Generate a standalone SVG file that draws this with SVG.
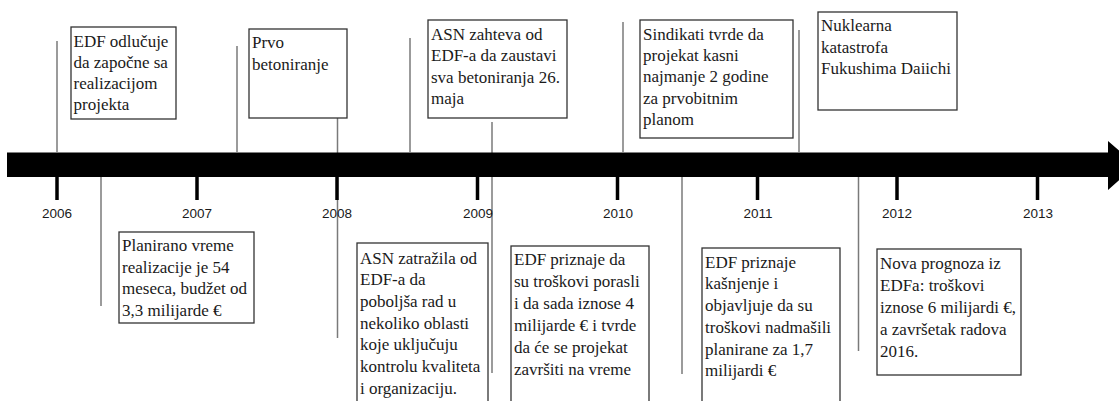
<svg xmlns="http://www.w3.org/2000/svg" width="1119" height="401" viewBox="0 0 1119 401">
<style>
.box{fill:#fff;stroke:#333;stroke-width:1.3}
.t{font-family:"Liberation Serif","Times New Roman",serif;font-size:17px;fill:#1a1a1a}
.yr{font-family:"Liberation Sans",Arial,sans-serif;font-size:13.5px;fill:#1a1a1a;text-anchor:middle}
.ln{stroke:#7a7a7a;stroke-width:1.5;fill:none}
.tick{stroke:#000;stroke-width:3.5}
</style>
<g id="connectors">
<line class="ln" x1="57" y1="41" x2="57" y2="152"/>
<line class="ln" x1="101" y1="177" x2="101" y2="306"/>
<line class="ln" x1="237" y1="46" x2="237" y2="152"/>
<line class="ln" x1="337.5" y1="117" x2="337.5" y2="338"/>
<line class="ln" x1="410" y1="38" x2="410" y2="152"/>
<line class="ln" x1="492" y1="122" x2="492" y2="373"/>
<line class="ln" x1="623" y1="22" x2="623" y2="152"/>
<line class="ln" x1="682" y1="177" x2="682" y2="374"/>
<line class="ln" x1="799" y1="30" x2="799" y2="152"/>
<line class="ln" x1="858.5" y1="177" x2="858.5" y2="351"/>
</g>
<g id="axis">
<path d="M7 152.5 H1108 V141 L1136 165 L1108 190 V177 H7 Z" fill="#000"/>
<line class="tick" x1="57" y1="176" x2="57" y2="200"/>
<line class="tick" x1="197" y1="176" x2="197" y2="200"/>
<line class="tick" x1="337" y1="176" x2="337" y2="200"/>
<line class="tick" x1="477.5" y1="176" x2="477.5" y2="200"/>
<line class="tick" x1="617.5" y1="176" x2="617.5" y2="200"/>
<line class="tick" x1="757.5" y1="176" x2="757.5" y2="200"/>
<line class="tick" x1="897" y1="176" x2="897" y2="200"/>
<line class="tick" x1="1037.5" y1="176" x2="1037.5" y2="200"/>
<text class="yr" x="57" y="218">2006</text>
<text class="yr" x="197" y="218">2007</text>
<text class="yr" x="337" y="218">2008</text>
<text class="yr" x="478" y="218">2009</text>
<text class="yr" x="618" y="218">2010</text>
<text class="yr" x="758" y="218">2011</text>
<text class="yr" x="897" y="218">2012</text>
<text class="yr" x="1038" y="218">2013</text>
</g>
<g id="n-2006-edf">
<rect class="box" x="71" y="27" width="105" height="92"/>
<text class="t" x="73.5" y="47">EDF odlučuje</text>
<text class="t" x="73.5" y="68">da započne sa</text>
<text class="t" x="73.5" y="89">realizacijom</text>
<text class="t" x="73.5" y="109.5">projekta</text>
</g>
<g id="n-2007-prvo">
<rect class="box" x="249" y="29" width="98" height="89"/>
<text class="t" x="252" y="48">Prvo</text>
<text class="t" x="252" y="69.5">betoniranje</text>
</g>
<g id="n-2008-asn-zahteva">
<rect class="box" x="428" y="20" width="139" height="98"/>
<text class="t" x="431" y="39.5">ASN zahteva od</text>
<text class="t" x="431" y="61">EDF-a da zaustavi</text>
<text class="t" x="431" y="82.5">sva betoniranja 26.</text>
<text class="t" x="431" y="103.5">maja</text>
</g>
<g id="n-2010-sindikati">
<rect class="box" x="640" y="20" width="153" height="118"/>
<text class="t" x="643" y="39.5">Sindikati tvrde da</text>
<text class="t" x="643" y="61">projekat kasni</text>
<text class="t" x="643" y="82">najmanje 2 godine</text>
<text class="t" x="643" y="103.5">za prvobitnim</text>
<text class="t" x="643" y="125">planom</text>
</g>
<g id="n-2011-fukushima">
<rect class="box" x="818" y="12" width="139" height="98"/>
<text class="t" x="821" y="31">Nuklearna</text>
<text class="t" x="821" y="52.5">katastrofa</text>
<text class="t" x="821" y="74">Fukushima Daiichi</text>
</g>
<g id="n-2006-planirano">
<rect class="box" x="119" y="232" width="135" height="91"/>
<text class="t" x="122" y="251">Planirano vreme</text>
<text class="t" x="122" y="272.5">realizacije je 54</text>
<text class="t" x="122" y="294">meseca, budžet od</text>
<text class="t" x="122" y="316">3,3 milijarde €</text>
</g>
<g id="n-2008-asn-zatrazila">
<rect class="box" x="357" y="243" width="131" height="170"/>
<text class="t" x="360" y="263.5">ASN zatražila od</text>
<text class="t" x="360" y="285">EDF-a da</text>
<text class="t" x="360" y="307">poboljša rad u</text>
<text class="t" x="360" y="328.5">nekoliko oblasti</text>
<text class="t" x="360" y="350">koje uključuju</text>
<text class="t" x="360" y="372">kontrolu kvaliteta</text>
<text class="t" x="360" y="393.5">i organizaciju.</text>
</g>
<g id="n-2009-edf-troskovi">
<rect class="box" x="511" y="246" width="138" height="170"/>
<text class="t" x="514" y="265">EDF priznaje da</text>
<text class="t" x="514" y="287">su troškovi porasli</text>
<text class="t" x="514" y="309">i da sada iznose 4</text>
<text class="t" x="514" y="331">milijarde € i tvrde</text>
<text class="t" x="514" y="353">da će se projekat</text>
<text class="t" x="514" y="375">završiti na vreme</text>
</g>
<g id="n-2010-edf-kasnjenje">
<rect class="box" x="702" y="248" width="138" height="170"/>
<text class="t" x="705" y="267.5">EDF priznaje</text>
<text class="t" x="705" y="289">kašnjenje i</text>
<text class="t" x="705" y="311">objavljuje da su</text>
<text class="t" x="705" y="332.5">troškovi nadmašili</text>
<text class="t" x="705" y="354.5">planirane za 1,7</text>
<text class="t" x="705" y="376">milijardi €</text>
</g>
<g id="n-2011-nova-prognoza">
<rect class="box" x="877" y="249" width="144" height="126"/>
<text class="t" x="880" y="268.5">Nova prognoza iz</text>
<text class="t" x="880" y="290.5">EDFa: troškovi</text>
<text class="t" x="880" y="312.5">iznose 6 milijardi €,</text>
<text class="t" x="880" y="334.5">a završetak radova</text>
<text class="t" x="880" y="356.5">2016.</text>
</g>
</svg>
